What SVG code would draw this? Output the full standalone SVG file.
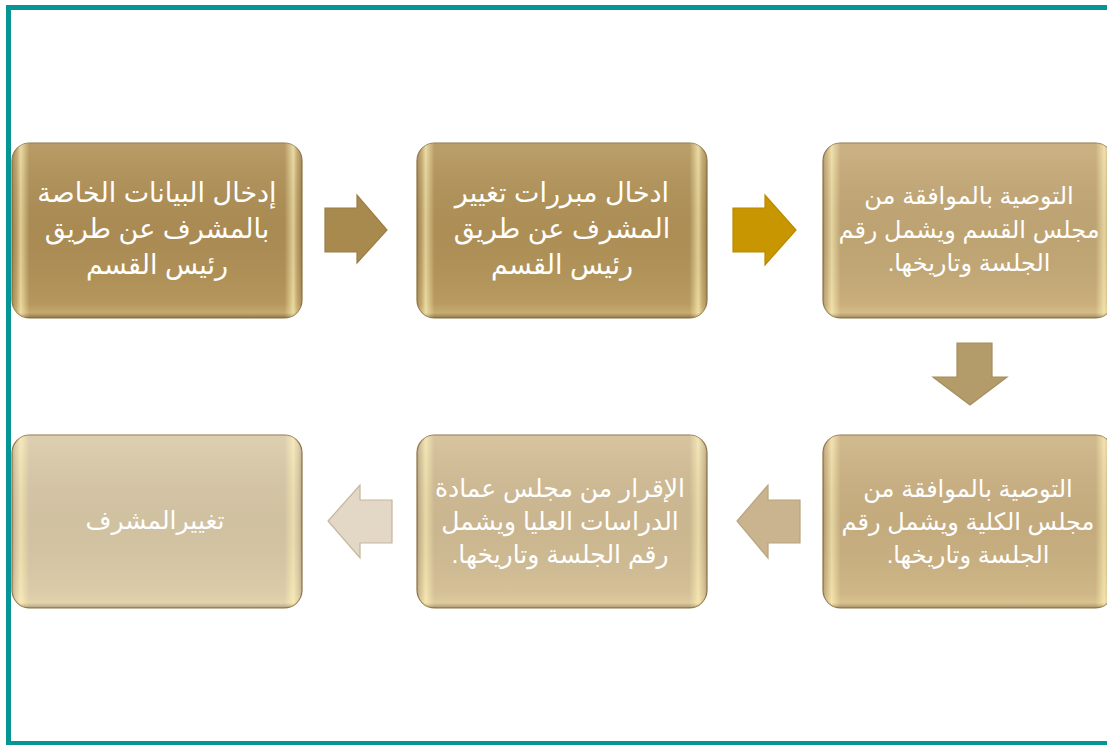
<svg xmlns="http://www.w3.org/2000/svg" width="1107" height="745" viewBox="0 0 1107 745">
<defs>
<style>
.box{stroke:#8c7345;stroke-width:1.2}
.txt{font-family:"Liberation Sans","DejaVu Sans",sans-serif;font-size:27px;fill:#ffffff;text-anchor:middle}
.sm{font-size:24px}
.md{font-size:25px}
.arr{stroke-width:1.2}
</style>
<linearGradient id="hx" x1="0" y1="0" x2="1" y2="0">
<stop offset="0" stop-color="#5a4420" stop-opacity="0.25"/>
<stop offset="0.015" stop-color="#fff3b8" stop-opacity="0.15"/>
<stop offset="0.03" stop-color="#fff3b8" stop-opacity="0.7"/>
<stop offset="0.06" stop-color="#fff3b8" stop-opacity="0"/>
<stop offset="0.94" stop-color="#fff3b8" stop-opacity="0"/>
<stop offset="0.97" stop-color="#fff3b8" stop-opacity="0.7"/>
<stop offset="0.985" stop-color="#fff3b8" stop-opacity="0.15"/>
<stop offset="1" stop-color="#5a4420" stop-opacity="0.25"/>
</linearGradient>
<linearGradient id="hy" x1="0" y1="0" x2="0" y2="1">
<stop offset="0" stop-color="#ffffff" stop-opacity="0.1"/>
<stop offset="0.06" stop-color="#ffffff" stop-opacity="0.08"/>
<stop offset="0.5" stop-color="#000000" stop-opacity="0.04"/>
<stop offset="0.92" stop-color="#fff3b8" stop-opacity="0.08"/>
<stop offset="0.97" stop-color="#fff3b8" stop-opacity="0.25"/>
<stop offset="1" stop-color="#4a3818" stop-opacity="0.3"/>
</linearGradient>
</defs>
<rect x="8.5" y="7.5" width="1110" height="736" fill="#ffffff" stroke="#069494" stroke-width="5"/>
<g id="connectors">
<path id="a1" class="arr" d="M325,208 H357 V195 L387,230 L357,263 V252 H325 Z" fill="#a88a4e" stroke="#9a7e44"/>
<path id="a2" class="arr" d="M733,208 H765 V195 L796,230 L765,265 V252 H733 Z" fill="#c89600" stroke="#b88a00"/>
<path id="a3" class="arr" d="M957,343 H992 V377 H1007 L970,405 L933,377 H957 Z" fill="#b49b6a" stroke="#a58d5e"/>
<path id="a4" class="arr" d="M800,500 H768 V485 L737,521 L768,558 V543 H800 Z" fill="#c9b48f" stroke="#b9a47f"/>
<path id="a5" class="arr" d="M392,500 H360 V485 L328,521 L360,558 V543 H392 Z" fill="#e3d8c6" stroke="#c4b59c"/>
</g>
<g id="n1">
<rect class="box" x="12" y="143" width="290" height="175" rx="18" fill="#b09056"/>
<rect x="12" y="143" width="290" height="175" rx="18" fill="url(#hx)"/>
<rect x="12" y="143" width="290" height="175" rx="18" fill="url(#hy)"/>
<text class="txt" direction="rtl"><tspan x="157" y="202">إدخال البيانات الخاصة</tspan><tspan x="157" y="238">بالمشرف عن طريق</tspan><tspan x="157" y="274">رئيس القسم</tspan></text>
</g>
<g id="n2">
<rect class="box" x="417" y="143" width="290" height="175" rx="18" fill="#b39459"/>
<rect x="417" y="143" width="290" height="175" rx="18" fill="url(#hx)"/>
<rect x="417" y="143" width="290" height="175" rx="18" fill="url(#hy)"/>
<text class="txt" direction="rtl"><tspan x="562" y="202">ادخال مبررات تغيير</tspan><tspan x="562" y="238">المشرف عن طريق</tspan><tspan x="562" y="274">رئيس القسم</tspan></text>
</g>
<g id="n3">
<rect class="box" x="823" y="143" width="290" height="175" rx="18" fill="#c5a977"/>
<rect x="823" y="143" width="290" height="175" rx="18" fill="url(#hx)"/>
<rect x="823" y="143" width="290" height="175" rx="18" fill="url(#hy)"/>
<text class="txt sm" direction="rtl"><tspan x="969" y="204">التوصية بالموافقة من</tspan><tspan x="969" y="238">مجلس القسم ويشمل رقم</tspan><tspan x="969" y="271">الجلسة وتاريخها.</tspan></text>
</g>
<g id="n6">
<rect class="box" x="823" y="435" width="290" height="173" rx="18" fill="#ccb283"/>
<rect x="823" y="435" width="290" height="173" rx="18" fill="url(#hx)"/>
<rect x="823" y="435" width="290" height="173" rx="18" fill="url(#hy)"/>
<text class="txt sm" direction="rtl"><tspan x="968" y="497">التوصية بالموافقة من</tspan><tspan x="968" y="530">مجلس الكلية ويشمل رقم</tspan><tspan x="968" y="563">الجلسة وتاريخها.</tspan></text>
</g>
<g id="n5">
<rect class="box" x="417" y="435" width="290" height="173" rx="18" fill="#d2bd95"/>
<rect x="417" y="435" width="290" height="173" rx="18" fill="url(#hx)"/>
<rect x="417" y="435" width="290" height="173" rx="18" fill="url(#hy)"/>
<text class="txt md" direction="rtl"><tspan x="560" y="497">الإقرار من مجلس عمادة</tspan><tspan x="560" y="530">الدراسات العليا ويشمل</tspan><tspan x="560" y="563">رقم الجلسة وتاريخها.</tspan></text>
</g>
<g id="n4">
<rect class="box" x="12" y="435" width="290" height="173" rx="18" fill="#d9c9a8"/>
<rect x="12" y="435" width="290" height="173" rx="18" fill="url(#hx)"/>
<rect x="12" y="435" width="290" height="173" rx="18" fill="url(#hy)"/>
<text class="txt" direction="rtl" style="font-size:25px"><tspan x="155" y="529">تغييرالمشرف</tspan></text>
</g>
</svg>
